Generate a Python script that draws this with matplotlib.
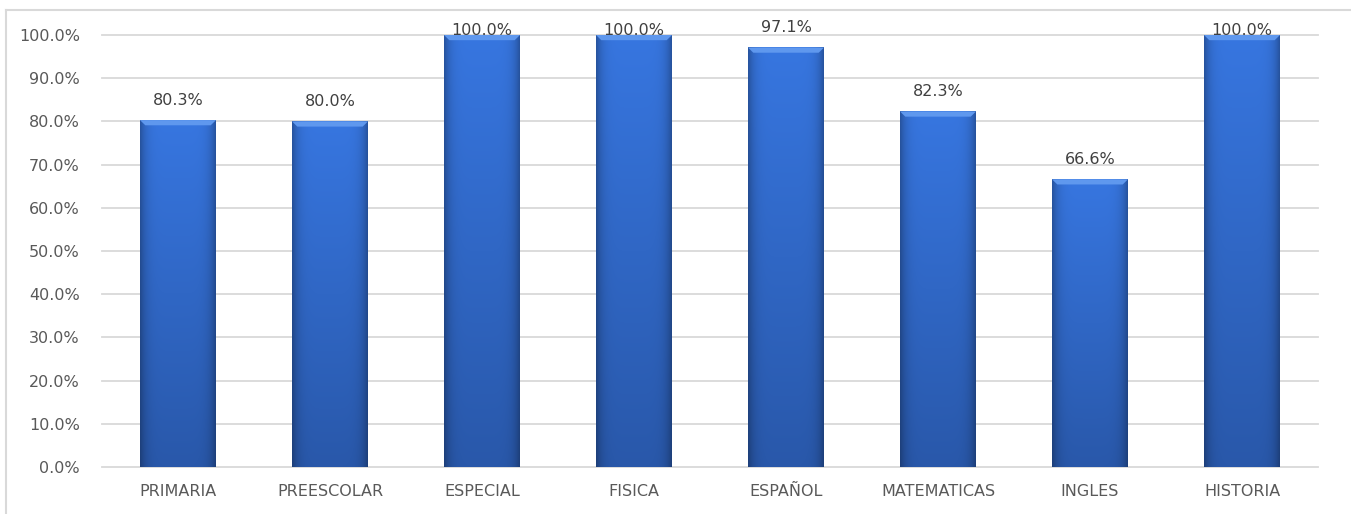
import numpy as np
import matplotlib
matplotlib.use("Agg")
import matplotlib.pyplot as plt
from matplotlib.lines import Line2D
from matplotlib.patches import Polygon

categories = ["PRIMARIA", "PREESCOLAR", "ESPECIAL", "FISICA", "ESPAÑOL",
              "MATEMATICAS", "INGLES", "HISTORIA"]
values = [0.803, 0.800, 1.000, 1.000, 0.971, 0.823, 0.666, 1.000]
yticks = np.arange(0, 1.01, 0.1)


def bar_gradient():
    # horizontal shading: darker at the edges, lighter in the middle
    xs = np.linspace(-1, 1, 60)
    h = 1 - 0.28 * np.abs(xs) ** 6
    # vertical shading: lighter at top, darker at bottom
    ys = np.linspace(1, 0, 200)[:, None]
    top = np.array([0x37, 0x76, 0xE0]) / 255
    bot = np.array([0x29, 0x58, 0xAA]) / 255
    col = bot + (top - bot) * ys[..., None]
    img = col * h[None, :, None]
    return np.clip(img, 0, 1)


fig = plt.figure(figsize=(13.51, 5.14), dpi=100)
ax = fig.add_axes([102 / 1351, 1 - 467 / 514, 1216 / 1351, 432 / 514])

x = np.arange(len(categories))
width = 0.5
grad = bar_gradient()

# horizontal gridlines
for t in yticks:
    ax.axhline(t, color="#D9D9D9", linewidth=1.3, zorder=0, clip_on=False)

for xi, v in zip(x, values):
    ax.imshow(grad, extent=(xi - width / 2, xi + width / 2, 0, v),
              aspect="auto", zorder=2, interpolation="bilinear")
    # bevel at the bar top
    dx, dy = 0.035, 0.012
    bevel = Polygon([(xi - width / 2, v), (xi + width / 2, v),
                     (xi + width / 2 - dx, v - dy), (xi - width / 2 + dx, v - dy)],
                    closed=True, facecolor="#5F98EE", edgecolor="none", zorder=3)
    ax.add_patch(bevel)
    off = 0 if v >= 0.99 else 11
    ax.annotate(f"{v * 100:.1f}%", (xi, v), xytext=(0, off),
                textcoords="offset points", ha="center", va="baseline",
                fontsize=11.5, color="#404040", zorder=4, annotation_clip=False)

ax.set_xlim(-0.5, len(categories) - 0.5)
ax.set_ylim(0, 1)
ax.set_yticks(yticks)
ax.set_yticklabels([f"{t * 100:.1f}%" for t in yticks])
ax.set_xticks(x)
ax.set_xticklabels(categories)
ax.tick_params(axis="both", length=0, labelsize=11.5, labelcolor="#595959")
ax.tick_params(axis="y", pad=16)
ax.tick_params(axis="x", pad=12)
for s in ax.spines.values():
    s.set_visible(False)

# chart area border (left and top edges visible)
fig.add_artist(Line2D([6 / 1351, 6 / 1351], [0, 1 - 10 / 514],
                      transform=fig.transFigure, color="#D9D9D9", linewidth=1.5))
fig.add_artist(Line2D([6 / 1351, 1], [1 - 10 / 514, 1 - 10 / 514],
                      transform=fig.transFigure, color="#D9D9D9", linewidth=1.5))

fig.savefig("out.png", dpi=100)
